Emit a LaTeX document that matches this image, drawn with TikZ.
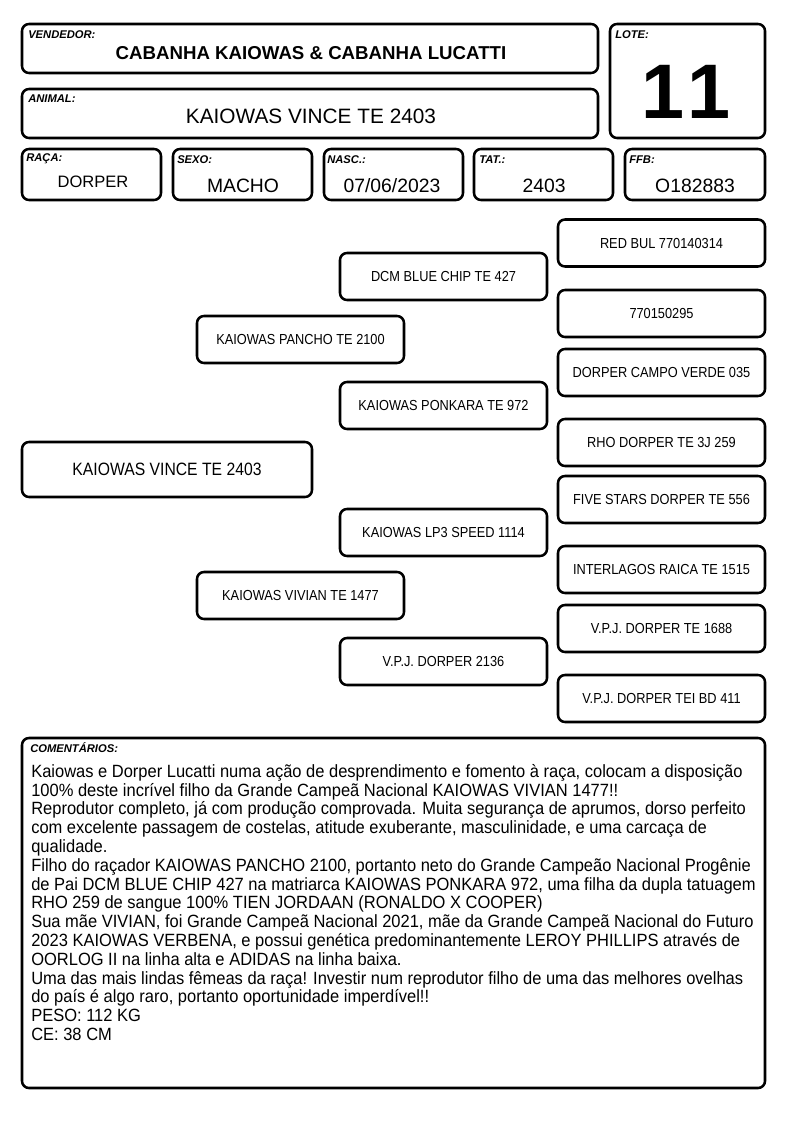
\documentclass[tikz,border=0pt]{standalone}
\usepackage{fontspec}
\setmainfont{Liberation Sans}
\newfontfamily\narrowsans[FakeStretch=0.88]{Liberation Sans}
\newfontfamily\notesans[FakeStretch=0.93]{Liberation Sans}
\usepackage{tikz}
\usetikzlibrary{positioning,calc}

\newlength\px
\setlength\px{0.75pt}

\tikzset{
  field/.style={draw, line width=1.9pt, rounded corners=7\px, inner sep=0pt},
  tag/.style={anchor=west, inner sep=0pt, font=\fontsize{8.4pt}{9pt}\selectfont\bfseries\itshape},
  pedbox/.style={field, minimum width=207\px, minimum height=47\px,
    font=\narrowsans\fontsize{10.9pt}{12pt}\selectfont},
  fieldval/.style={inner sep=0pt, font=\fontsize{14.5pt}{16pt}\selectfont},
}

\begin{document}
\begin{tikzpicture}[x=0.75pt, y=-0.75pt]
  \useasboundingbox (0,0) rectangle (794,1123);

  % header fields
  \node[field, minimum width=576\px, minimum height=49\px] (vend)   at (310,48.5)  {};
  \node[field, minimum width=155\px, minimum height=114\px] (lote)  at (687.5,81)  {};
  \node[field, minimum width=576\px, minimum height=49\px] (animal) at (310,113.5) {};
  \node[field, minimum width=139\px, minimum height=51\px] (raca)   at (91.5,174.5)  {};
  \node[field, minimum width=139\px, minimum height=51\px] (sexo)   at (242.5,174.5) {};
  \node[field, minimum width=139\px, minimum height=51\px] (nasc)   at (393.5,174.5) {};
  \node[field, minimum width=139\px, minimum height=51\px] (tat)    at (543.5,174.5) {};
  \node[field, minimum width=140\px, minimum height=51\px] (ffb)    at (695,174.5)   {};

  \node[tag] (vendtag)   at (28,35)  {VENDEDOR:};
  \node[tag] (lotetag)   at (615,35) {LOTE:};
  \node[tag] (animaltag) at (28,99)  {ANIMAL:};
  \node[tag] (racatag)   at (26,159) {RAÇA:};
  \node[tag] (sexotag)   at (177,160) {SEXO:};
  \node[tag] (nasctag)   at (327,160) {NASC.:};
  \node[tag] (tattag)    at (479,160) {TAT.:};
  \node[tag] (ffbtag)    at (629,160) {FFB:};

  \node[inner sep=0pt, font=\fontsize{14pt}{16pt}\selectfont\bfseries] (vendval) at (311,53)
    {CABANHA KAIOWAS \& CABANHA LUCATTI};
  \node[inner sep=0pt, font=\fontsize{58pt}{60pt}\selectfont\bfseries] (loteval) at (686,92) {1\kern2pt1};
  \node[inner sep=0pt, font=\fontsize{15.6pt}{17pt}\selectfont] (animalval) at (311,116)
    {KAIOWAS VINCE TE 2403};
  \node[fieldval, font=\fontsize{12.4pt}{14pt}\selectfont] (racaval) at (93,182) {DORPER};
  \node[fieldval] (sexoval) at (243,186) {MACHO};
  \node[fieldval] (nascval) at (392,186) {07/06/2023};
  \node[fieldval] (tatval)  at (544,186) {2403};
  \node[fieldval] (ffbval)  at (695,186) {O182883};

  % pedigree
  \node[pedbox, minimum width=290\px, minimum height=55\px,
    font=\narrowsans\fontsize{13.4pt}{15pt}\selectfont] (self) at (167,469.5) {KAIOWAS VINCE TE 2403};

  \node[pedbox] (sire) at (300.5,339.5) {KAIOWAS PANCHO TE 2100};
  \node[pedbox] (dam)  at (300.5,595.5) {KAIOWAS VIVIAN TE 1477};

  \node[pedbox] (ss) at (443.5,276.5) {DCM BLUE CHIP TE 427};
  \node[pedbox] (sd) at (443.5,405.5) {KAIOWAS PONKARA TE 972};
  \node[pedbox] (ds) at (443.5,532.5) {KAIOWAS LP3 SPEED 1114};
  \node[pedbox] (dd) at (443.5,661.5) {V.P.J. DORPER 2136};

  \node[pedbox] (sss) at (661.5,243)   {RED BUL 770140314};
  \node[pedbox] (ssd) at (661.5,313.5) {770150295};
  \node[pedbox] (sds) at (661.5,372.5) {DORPER CAMPO VERDE 035};
  \node[pedbox] (sdd) at (661.5,442.5) {RHO DORPER TE 3J 259};
  \node[pedbox] (dss) at (661.5,499.5) {FIVE STARS DORPER TE 556};
  \node[pedbox] (dsd) at (661.5,569.5) {INTERLAGOS RAICA TE 1515};
  \node[pedbox] (dds) at (661.5,628.5) {V.P.J. DORPER TE 1688};
  \node[pedbox] (ddd) at (661.5,698.5) {V.P.J. DORPER TEI BD 411};

  % comments
  \node[field, minimum width=743\px, minimum height=350\px] (coment) at (393.5,913) {};
  \node[tag] (comenttag) at (30,748) {COMENTÁRIOS:};
  \node[anchor=north west, inner sep=0pt, align=left,
    font=\notesans\fontsize{13.3pt}{14.1pt}\selectfont] (comenttxt) at (31,764) {%
    Kaiowas e Dorper Lucatti numa ação de desprendimento e fomento à raça, colocam a disposição\\
    100\% deste incrível filho da Grande Campeã Nacional KAIOWAS VIVIAN 1477!!\\
    Reprodutor completo, já com produção comprovada. Muita segurança de aprumos, dorso perfeito\\
    com excelente passagem de costelas, atitude exuberante, masculinidade, e uma carcaça de\\
    qualidade.\\
    Filho do raçador KAIOWAS PANCHO 2100, portanto neto do Grande Campeão Nacional Progênie\\
    de Pai DCM BLUE CHIP 427 na matriarca KAIOWAS PONKARA 972, uma filha da dupla tatuagem\\
    RHO 259 de sangue 100\% TIEN JORDAAN (RONALDO X COOPER)\\
    Sua mãe VIVIAN, foi Grande Campeã Nacional 2021, mãe da Grande Campeã Nacional do Futuro\\
    2023 KAIOWAS VERBENA, e possui genética predominantemente LEROY PHILLIPS através de\\
    OORLOG II na linha alta e ADIDAS na linha baixa.\\
    Uma das mais lindas fêmeas da raça! Investir num reprodutor filho de uma das melhores ovelhas\\
    do país é algo raro, portanto oportunidade imperdível!!\\
    PESO: 112 KG\\
    CE: 38 CM};
\end{tikzpicture}
\end{document}
